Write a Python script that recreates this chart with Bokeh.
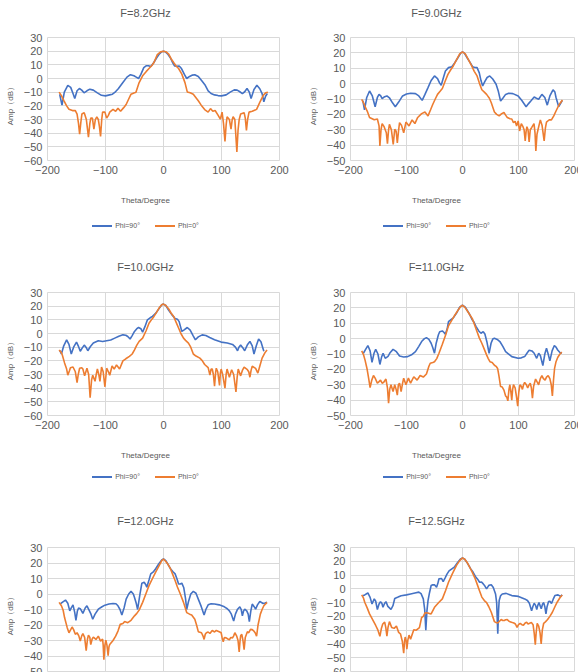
from bokeh.plotting import figure
from bokeh.models import Range1d, FixedTicker, Div
from bokeh.layouts import column, row
from bokeh.embed import file_html
from bokeh.resources import INLINE

GRAY = "#595959"
GRID = "#d9d9d9"
BLUE = "#4472C4"
ORANGE = "#ED7D31"

titles = ["F=8.2GHz", "F=9.0GHz", "F=10.0GHz", "F=11.0GHz", "F=12.0GHz", "F=12.5GHz"]
y_mins = [-60, -50, -60, -50, -50, -60]
x_ticks = [-200, -100, 0, 100, 200]
legend_labels = ["Phi=90°", "Phi=0°"]
x_title = "Theta/Degree"
y_title = "Amp（dB）"

# (theta [deg], amplitude [dB])
phi90_82 = [(-179,-11.5),(-175,-19.5),(-171,-10),(-165,-5),(-160,-6.5),(-156,-11),(-153,-14.6),(-149,-9),(-145,-7.3),(-141,-8.5),(-137,-10.5),(-132,-9),(-127,-7.8),(-121,-8.5),(-114,-10.5),(-107,-12.3),(-100,-12.7),(-93,-12),(-88,-11.5),(-84,-10.2),(-78,-7.5),(-70,-2.9),(-63,1),(-57,2.8),(-51,2),(-47,1),(-43,0),(-39,3),(-34,8),(-30,9.3),(-26,9.3),(-22,8.7),(-17,11.5),(-12,15),(-7,18),(-3,19.6),(0,20),(3,19.6),(7,18),(12,15),(16,11.5),(19,9.2),(23,9),(27,9.2),(31,7.3),(36,3),(40,0),(45,1.5),(50,2.5),(54,2.7),(60,1.5),(66,-1.7),(72,-5),(77,-9),(82,-11),(88,-12),(94,-12.5),(100,-12.7),(108,-12),(115,-10),(122,-8.3),(127,-8.5),(131,-9.5),(136,-11),(140,-9.7),(144,-7.3),(148,-10),(151,-14.6),(156,-8),(161,-5),(166,-7.5),(170,-11),(173,-17),(176,-13),(179,-11)]
phi0_82 = [(-180,-10),(-176,-12.5),(-172,-16),(-167,-20),(-163,-22.5),(-157,-23.5),(-152,-23.5),(-149,-26),(-146.5,-33),(-144.6,-40.7),(-142.5,-32),(-140.7,-26),(-136.7,-25),(-133,-30),(-129.4,-43),(-127,-33),(-125.4,-29),(-122.6,-29),(-120,-37),(-117.5,-30),(-115,-28),(-112.4,-30),(-110.5,-35),(-108.5,-42.4),(-106.5,-30),(-105,-24.6),(-101,-24.6),(-98,-29),(-95,-27),(-92.7,-24.6),(-87,-22.6),(-82.5,-24),(-78.5,-21.7),(-74,-24),(-69,-21.5),(-64.4,-19),(-60,-15),(-56,-11.5),(-50,-10.5),(-47.5,-10),(-42,-3),(-36,2),(-30,5),(-25,7.3),(-20,9.5),(-16.4,11.7),(-10.7,17.5),(-5,19.5),(0,20),(4,19.6),(9,17.8),(13,14.5),(17.5,11.7),(22,9),(26,7.3),(31.6,3.2),(37,-3),(41,-9.8),(46,-10.5),(51.4,-11.5),(55,-13.5),(60,-16.3),(65,-19.5),(71,-22.7),(77,-24.6),(81,-22),(85,-24),(89,-23.4),(94,-26.8),(98,-29.8),(101,-24.6),(103.5,-33),(106,-46),(108,-34),(109.6,-28),(113.6,-30),(116.4,-37),(118.5,-30),(120,-28),(123,-30),(126.5,-53.7),(128.5,-38),(130.5,-30),(133,-26),(139,-25),(141,-29),(143,-38),(145,-30),(147.5,-24.6),(153,-24),(160.5,-22.6),(166,-17.5),(171.8,-12.5),(176,-10.5),(180,-10)]

phi90_90 = [(-178,-11),(-175,-17),(-171,-9),(-166,-4.8),(-161,-8),(-156,-15),(-152,-9),(-149,-7),(-146,-8),(-143.5,-9.8),(-139,-8.5),(-135,-8),(-130,-9.5),(-125,-12.5),(-120,-15),(-114,-12),(-107,-8),(-100,-6.8),(-92.7,-6.3),(-84,-6.5),(-78,-8),(-72,-10.9),(-67,-7),(-61.6,-2.6),(-56,2),(-50,5),(-44.6,3.3),(-41,0.5),(-38,-1.1),(-34,4),(-30.5,8.2),(-25,10.4),(-19,11),(-14,13.5),(-8,17),(-3,20),(0,20.6),(3,20),(8,17),(14,13.5),(18,11),(22,10.5),(26,10.4),(30,7),(33,2),(36,-1.5),(40,1.5),(44,4),(48.6,5),(54,3),(60,-0.4),(64,-5),(68,-11.3),(72,-9.5),(77,-7),(82.5,-6.3),(90,-6.5),(99.4,-8),(106,-11),(113.6,-15),(118,-13),(122,-11.3),(128,-8.7),(132,-9.5),(136,-10.2),(141.8,-7),(147,-9),(151.4,-14),(156,-8),(161.6,-4),(165,-5.5),(167,-9),(171.8,-15),(175,-13),(178,-11)]
phi0_90 = [(-180,-10.2),(-176,-13),(-174.6,-14.5),(-170,-18),(-166,-22),(-157.6,-23.5),(-152,-23),(-149,-27.5),(-147.5,-40.5),(-145.5,-30),(-143.5,-26),(-140,-28),(-136,-32),(-134,-39),(-132,-30),(-130.5,-26.5),(-127,-30),(-123.7,-39.5),(-121,-29.7),(-118.5,-31),(-116.4,-38.5),(-114,-30),(-112.4,-25.4),(-109,-27),(-105,-32),(-101,-25),(-95.5,-27.5),(-90,-23.6),(-85,-26),(-80,-22),(-73,-19.5),(-67,-18.4),(-61.6,-21),(-57,-17),(-53,-13.4),(-48,-9.5),(-44.6,-7),(-40,-5),(-36,-3.2),(-31,1.5),(-26,6),(-21,9),(-16.4,11.5),(-10,16),(-5,19.3),(0,20.6),(5,19.3),(10,16),(16.4,11.5),(21,8),(26,5),(30,0.5),(34.5,-4),(39,-5.5),(43,-7),(48,-9.5),(51.4,-12.4),(57,-18.4),(61,-20),(65.5,-21),(70,-19.5),(74,-18.8),(77,-20.5),(80,-22),(85,-22.8),(88,-23),(91,-25.4),(94,-24.5),(96.6,-27.5),(99.4,-24.3),(102,-30.8),(105,-26),(108,-28),(110,-30),(112,-37.3),(113.6,-31),(115,-28),(117,-30),(119,-38),(121,-30),(123.7,-28.5),(127.7,-26),(129.5,-32),(131,-43.8),(133,-33),(135,-29.7),(139,-23.6),(142,-27),(145.8,-37.3),(148,-29),(150,-25),(155,-23.5),(158.8,-23.6),(163,-21),(167,-17.8),(173,-13.4),(178.5,-10.6)]

phi90_100 = [(-178.5,-12.5),(-176,-15),(-172,-9),(-167,-4.6),(-163,-8),(-159,-15),(-155,-10),(-150,-6.3),(-147,-9),(-143.5,-13),(-140,-10.5),(-136.7,-8.5),(-133,-10.5),(-130.5,-12.6),(-126,-9.5),(-121,-7),(-112.4,-5.3),(-105,-5.8),(-98,-5.3),(-91,-4.8),(-84,-3.4),(-77,-2),(-70,-1),(-65,-1.3),(-61.6,-2.2),(-57.6,-4),(-54,-1.5),(-50,1.5),(-46,3.5),(-43,4.4),(-39,3.5),(-36,1),(-32,5),(-27.7,10),(-23,11.5),(-19,12.5),(-14,14.5),(-8,18),(-3,21),(0,21.5),(4,20.5),(9,17),(14,14),(20,11),(24,10.5),(27,8.7),(31.6,1.5),(35,2.5),(41,4.4),(46,2.5),(51,-1.5),(55,-4.6),(60,-2.5),(66.7,-1),(73,-1.5),(79.7,-2.9),(88,-4.5),(99.4,-6.3),(110,-7),(119,-8),(124,-10),(127.7,-12.6),(130,-10),(133,-8.5),(136,-10),(140,-12.6),(145,-8),(149,-5.8),(153,-9),(156,-15),(160,-9),(164,-4),(168,-6),(173,-13)]
phi0_100 = [(-180,-12),(-176,-14),(-174.6,-15.5),(-170.6,-21.5),(-167,-26),(-165,-30.5),(-162,-27),(-160.5,-25),(-156,-24.5),(-152,-28),(-149,-36),(-147,-30),(-144.6,-25.4),(-141,-25),(-139,-26),(-136,-31),(-132,-25.4),(-129,-30),(-126.5,-47),(-124,-34),(-122,-30.5),(-118,-35),(-116,-30),(-114,-26),(-111.5,-30),(-109.6,-35),(-106.8,-24.6),(-104,-28),(-101,-39),(-98,-25.4),(-95,-28),(-92.7,-30.5),(-88.7,-23.8),(-85,-26),(-81,-23),(-75.7,-26),(-70,-20),(-65,-18.5),(-58.8,-16.7),(-54,-15),(-50,-12),(-46,-8.5),(-42,-5.8),(-36,-3.4),(-30,2),(-25,7.5),(-20,10.5),(-16.4,12.5),(-12,15.5),(-8,18.4),(-3,21),(0,21.5),(4,20.5),(9,18),(13,15),(17.5,12.5),(22,8),(26,4),(30,0),(34.5,-3.4),(38,-5),(43,-7),(47,-10),(51.4,-15),(56,-16.5),(62.7,-18),(67,-20),(71,-22.7),(77,-25),(80,-30.5),(82,-26),(84,-26),(86,-30),(88,-38.5),(90,-28),(91,-25.4),(93.5,-28),(96.6,-38),(98,-29),(99.4,-26),(102,-30),(106,-40),(108,-30),(109.6,-26),(113.6,-32),(117.5,-26.5),(121,-30),(124.9,-42.8),(127,-32),(128.8,-26),(133,-31),(136,-27),(139,-24.6),(144.6,-26.5),(147,-28),(149,-32),(151,-27),(153,-24),(158.8,-25.5),(162.7,-29),(166,-24),(170,-18),(175,-14),(178.5,-12)]

phi90_110 = [(-177,-9.5),(-173,-7),(-169,-4.5),(-165,-8),(-161.6,-15.4),(-158,-9.5),(-155,-7),(-151,-10),(-147.5,-16.8),(-144.5,-12),(-141.8,-9.5),(-138,-12.8),(-133,-11.5),(-129,-9),(-124,-7),(-118,-8.5),(-112.4,-11.3),(-105,-12),(-98,-11.7),(-91,-10.5),(-84,-8.5),(-78,-5),(-73,-1.9),(-68,0),(-64.4,0.6),(-60,-0.5),(-56,-3),(-53,-6),(-50,-9.5),(-47,-3),(-43,2.5),(-40.7,4.5),(-36,5),(-33,4),(-30.5,2.8),(-27,7),(-25,11),(-20,12.5),(-16.4,13.5),(-10,17),(-5,20.5),(0,21.7),(5,20.5),(12,16.2),(17,12.5),(20,11),(24,8),(29,5),(33,3.5),(37,4.5),(40,3),(43.5,-2),(47.5,-9.5),(51,-3),(54,-0.3),(57,0.2),(62,-0.5),(66.7,-1.9),(72,-5),(77,-8.5),(88,-11.7),(99.4,-12.8),(105,-12.5),(111,-11.7),(116,-9),(119,-7.5),(124,-8),(128,-9.5),(132.5,-12.8),(136,-9.5),(139,-11),(143.5,-17.5),(147,-10),(150,-6.3),(153,-10),(156,-14.5),(160,-8),(164,-4.5),(167,-5.5),(170,-7.4),(174,-9),(177.4,-9.5)]
phi0_110 = [(-180,-8),(-177,-10.2),(-174,-14),(-170.6,-19.4),(-167.5,-26),(-165,-31.8),(-162,-27),(-159,-24),(-156,-25.7),(-152,-29),(-149,-28),(-146.4,-27),(-143.5,-29),(-140.7,-28.4),(-136.7,-26.3),(-134,-32),(-132,-42),(-130,-33),(-127.7,-30),(-124,-34.4),(-121,-30),(-118.5,-33),(-116.4,-36.8),(-114.5,-30),(-112.4,-29),(-109.6,-34.4),(-107,-29),(-105,-25.7),(-101,-30),(-96.6,-25.7),(-92.7,-29),(-87,-24.8),(-81,-27),(-75.7,-24),(-70,-25),(-64.4,-23),(-60,-18),(-57.6,-16),(-53,-15.5),(-50,-15),(-46,-13),(-42,-9.5),(-36,-3.7),(-30,2.5),(-25,8.4),(-19,12),(-13.5,15.4),(-7,19),(-3,21),(0,21.7),(4,20.5),(9,17.8),(13,15.5),(17.5,13),(21,9.5),(26,4.5),(30,0.5),(34.5,-3),(39,-7),(43,-10.6),(46,-13),(49,-15),(53,-15.5),(57,-17.3),(60,-18),(62.7,-19.4),(65,-24),(68,-31.2),(71,-31.5),(74,-33.5),(77,-37.3),(79,-38),(81,-40.5),(83,-33),(84.6,-30),(86.5,-35),(88,-40),(89.5,-33),(91,-30),(94,-32),(96.5,-38),(98.6,-43.9),(100.5,-35),(102.6,-30),(105,-31),(107,-33),(109,-30),(111,-28.5),(114,-30),(116.4,-32),(119,-30),(121,-29),(123,-32),(124.9,-38.8),(127,-31),(130.5,-26.3),(133,-28),(136,-30),(139,-26),(141.8,-24),(144.5,-26),(147.5,-27),(150,-25),(153,-24),(156,-26),(158.5,-30),(160.5,-37.3),(162.5,-27),(164.4,-19.4),(167,-15),(170,-12.3),(174,-10),(177.4,-8.8)]

phi90_120 = [(-178.5,-6.5),(-174.6,-5.4),(-169,-3.9),(-165,-6),(-161.6,-10.9),(-159,-9),(-156,-7),(-153,-12),(-151,-17),(-148.5,-11),(-146.4,-9.1),(-143.5,-9.5),(-141,-11),(-139,-12.6),(-135,-9),(-132,-7.6),(-127.7,-10.9),(-125,-13),(-122,-16.3),(-118,-13),(-112.4,-9.8),(-106,-8.2),(-101,-7.2),(-94,-6.5),(-87,-6.1),(-82,-6.3),(-78.5,-7.6),(-75,-10),(-71.8,-13.5),(-68,-9),(-64.4,-3.3),(-60,0),(-56,1.7),(-52,0),(-50,-2.2),(-47,-6),(-44.6,-10),(-41,-1),(-37.3,7),(-33.3,7.6),(-30.5,6),(-28.8,4.3),(-25,9),(-22,13),(-17,14.5),(-13.5,16.3),(-8,19.5),(-3,22),(0,22.6),(4,21.5),(8,19),(12,16.3),(16,14.5),(20,13),(23,10),(26,6.5),(29,6.5),(31.6,7),(35,4),(38,-3),(40,-10),(43,-5),(47,0),(51.4,1.7),(56,0.5),(60,-3.3),(65,-8),(70,-13.5),(73,-10),(77,-7),(82,-6.3),(88,-6.5),(96,-7),(105,-8.3),(110,-9.5),(113.6,-10.9),(117,-13),(121,-17.4),(124,-13),(127.7,-9.8),(131.6,-8.3),(134,-10),(136,-14.1),(138,-11),(140,-9.8),(143.5,-10.9),(146,-13),(148,-17.8),(150.5,-11),(153,-6.5),(156,-8),(158.8,-9.8),(162,-7),(166,-4.8),(169,-5.5),(171.8,-6.1),(175,-5.8),(178.5,-5.4)]
phi0_120 = [(-180,-5.4),(-176,-7.6),(-173,-10.5),(-170.6,-15.2),(-166,-21.7),(-163,-25),(-160,-23),(-157.6,-21.3),(-155,-23),(-152,-26),(-149,-25),(-146,-27),(-143.5,-30.4),(-141,-27),(-139,-25.6),(-136,-28),(-133.3,-36.5),(-131,-29),(-129.4,-26.5),(-127,-28),(-125.4,-32.6),(-123,-29),(-121,-27.8),(-116.4,-29.3),(-112.4,-27.2),(-108.5,-30.4),(-105,-29),(-104,-33),(-102.8,-42.4),(-101,-33),(-99.4,-29.8),(-97.5,-33),(-95.5,-39.8),(-94,-34),(-92.7,-32.6),(-87,-30),(-82.5,-27.2),(-78.5,-23.9),(-74.6,-19.6),(-70,-19),(-67,-17.8),(-61.6,-18.5),(-56,-17),(-50,-14.1),(-46,-12.5),(-42,-10.4),(-36,-5.4),(-30,0.5),(-25,5.4),(-19,10),(-13.5,14.1),(-8,18),(-3,21.5),(0,22.6),(4,21),(8,19),(12,16.3),(16,12.5),(20,8.7),(24,4.5),(29,0),(34.5,-5.4),(40,-12),(45,-13),(48.6,-13.5),(54,-16.3),(57,-20),(60,-24.3),(65.5,-25),(68,-27),(70,-29.3),(72,-26),(74,-25),(77,-24.5),(80,-25.5),(84,-23.5),(88,-24.5),(91,-23.5),(94,-24),(97,-24.5),(99.4,-25),(101,-28),(103,-30.9),(105,-28),(108,-28.3),(111,-29),(113.6,-29.5),(116,-28),(119,-28.3),(121,-27),(123,-25),(126,-27),(128.5,-30),(130.5,-37.4),(132,-30),(133,-27),(135,-26),(137,-30),(139,-35.9),(141,-28),(144.6,-24.3),(147,-25),(150,-22.8),(153,-23),(156,-24),(158,-25),(160.5,-27.2),(163,-20),(167,-13),(170,-10),(173,-7.6),(178.5,-5.4)]

phi90_125 = [(-178,-5),(-174.6,-4.4),(-169,-3),(-165,-6.2),(-161.6,-11),(-157.6,-7.3),(-155,-9),(-152,-15),(-149,-11),(-146.4,-9.3),(-144,-10.5),(-142,-13.4),(-139,-10.5),(-136.7,-9.3),(-133.3,-12.7),(-130,-14),(-127.7,-15),(-124,-12),(-121,-7),(-115,-6),(-109.6,-5),(-100,-4.4),(-92.7,-3.7),(-85,-3),(-78,-2.4),(-74,-3.5),(-70,-7.3),(-67.5,-15),(-65.5,-30),(-63.5,-16),(-61.6,-8.5),(-59,-3),(-56,2.4),(-53,3),(-50,2.9),(-46.3,1.2),(-44,4),(-42,7.3),(-37.3,7.5),(-34.5,5.3),(-31,8),(-27.7,10.7),(-24,13),(-19,14.5),(-14,16),(-9,19),(-4,21.5),(0,22.5),(4,21.5),(9,18.5),(14.7,14.5),(19,12),(23,9),(27,7),(30.5,4.8),(34,5),(37,3.6),(40,2),(43,0),(47,2.5),(51.4,3),(55,1),(59,-3.7),(61,-10),(63,-32.5),(64.5,-15),(65.5,-8.5),(68,-5),(71,-3.7),(78,-3.3),(88,-4.9),(100,-5.5),(111,-7.3),(116,-8.5),(119.4,-10.5),(123.4,-16),(125.5,-13),(128,-10.5),(130.5,-12),(132.6,-15),(134.5,-12),(136.6,-10),(140.6,-14.5),(143,-11),(145,-10),(147,-13),(149,-18.2),(151,-13),(153.7,-9.2),(156,-9),(159,-10.7),(162,-7.5),(165,-4.9),(170.6,-4.4),(175,-5.5),(178,-4.4)]
phi0_125 = [(-180,-4.4),(-177,-6.5),(-174.6,-9.7),(-170,-14),(-166,-18.2),(-160.5,-22.3),(-155,-26.6),(-151,-30),(-147.5,-34.4),(-145,-29),(-142.4,-25.5),(-139,-24.2),(-137,-28),(-135,-34.4),(-133,-28),(-130.5,-23.8),(-126.5,-28),(-122,-28.7),(-118,-27),(-114,-31.6),(-110.7,-32.8),(-107.5,-38),(-105,-46.7),(-103.5,-38),(-102.3,-35),(-100.5,-38),(-99.4,-43.8),(-97.5,-37),(-95.5,-33.6),(-92.7,-36.5),(-87,-29.7),(-82.5,-30),(-78,-28.5),(-76.8,-28),(-73,-20.8),(-70,-20),(-67,-17.4),(-61.6,-17.5),(-58,-18),(-56,-18.2),(-50,-13.4),(-42,-9.7),(-36,-7.3),(-30,-1),(-25,4.8),(-18,11),(-10.7,17),(-5,20.5),(0,22.5),(4,21.5),(9,18.7),(13,15.5),(17.5,12),(22,8),(26,3.6),(30,-1),(34.5,-6),(39,-8.5),(43,-10),(47,-13),(51.4,-17),(57,-23.8),(60,-24.5),(63,-24.8),(66,-23.5),(69,-22.3),(72,-23),(74.6,-23),(77,-22.5),(80,-22.3),(83,-23.5),(86,-24),(89,-24.5),(91.7,-24.8),(94.5,-25.5),(97.4,-28),(100,-26),(103,-25),(106,-26),(108.8,-26.5),(111.5,-25),(114.5,-24.2),(117,-25.5),(120,-25),(123,-24.5),(126,-26),(128,-32),(130,-40.5),(131.5,-32),(133.4,-25),(136,-27),(138.5,-32),(140.5,-40),(142.5,-30),(145,-25),(148,-24),(152,-22.3),(156,-20),(160.5,-17),(165,-13),(169,-9.7),(174,-6.5),(178,-4.4)]

series_90 = [phi90_82, phi90_90, phi90_100, phi90_110, phi90_120, phi90_125]
series_0 = [phi0_82, phi0_90, phi0_100, phi0_110, phi0_120, phi0_125]

# layout sizes (px)
panel_w = 281
ylab_w = [10, 22]
border_left = [24, 23]
border_right = [12, 8]
title_h = [22, 31, 32]
title_pad = [0, 9, 9]
fig_h = [148, 148, 149]
bottom_h = [46, 45, 35]
xlab_pad = [1, 1, 0]
legend_gap = [15, 11, 12]
center_shift = [11, 19]

FONT_CSS = "font-family: 'Liberation Sans', Arial, helvetica, sans-serif; color: #595959;"


def make_panel(k):
    r, c = divmod(k, 2)
    fw = panel_w - ylab_w[c]
    p = figure(width=fw, height=fig_h[r],
               x_range=Range1d(-200, 200), y_range=Range1d(y_mins[k], 30),
               output_backend="svg", toolbar_location=None,
               min_border_left=border_left[c], min_border_right=border_right[c],
               min_border_top=5, min_border_bottom=20,
               background_fill_color="white", border_fill_color="white",
               outline_line_color=GRID)
    x90 = [t for t, a in series_90[k]]
    y90 = [a for t, a in series_90[k]]
    x0 = [t for t, a in series_0[k]]
    y0 = [a for t, a in series_0[k]]
    p.line(x90, y90, line_color=BLUE, line_width=1.6)
    p.line(x0, y0, line_color=ORANGE, line_width=1.6)
    p.xaxis.ticker = FixedTicker(ticks=x_ticks)
    p.yaxis.ticker = FixedTicker(ticks=list(range(y_mins[k], 31, 10)))
    for ax in (p.xaxis, p.yaxis):
        ax.axis_line_color = None
        ax.major_tick_line_color = None
        ax.minor_tick_line_color = None
        ax.major_tick_out = 0
        ax.major_tick_in = 0
        ax.major_label_text_color = GRAY
    p.xgrid.grid_line_color = GRID
    p.ygrid.grid_line_color = GRID

    pad = center_shift[c]
    title = Div(text=(f'<div style="{FONT_CSS} font-size: 11px; line-height: 14px; '
                      f'text-align: center; width: {panel_w - 2 * pad}px; '
                      f'margin-top: {title_pad[r]}px; padding-left: {2 * pad}px;">{titles[k]}</div>'),
                width=panel_w, height=title_h[r])

    ylab = Div(text=(f'<div style="{FONT_CSS} font-size: 8px; line-height: 9px; white-space: nowrap; '
                     'writing-mode: vertical-rl; text-orientation: sideways; transform: rotate(180deg); '
                     f'margin-top: 46px; margin-left: {ylab_w[c] - 9}px;">{y_title}</div>'),
               width=ylab_w[c], height=fig_h[r])

    swatch = ('<span style="display: inline-block; width: 20px; height: 0; '
              'border-top: 2px solid {col}; vertical-align: middle; margin-right: 3px;"></span>')
    legend_html = (swatch.format(col=BLUE) + legend_labels[0]
                   + '<span style="display: inline-block; width: 15px;"></span>'
                   + swatch.format(col=ORANGE) + legend_labels[1])
    bottom = Div(text=(f'<div style="{FONT_CSS} text-align: center; width: {panel_w - 2 * pad}px; '
                       f'padding-left: {2 * pad}px;">'
                       f'<div style="font-size: 8px; line-height: 10px; margin-top: {xlab_pad[r]}px;">{x_title}</div>'
                       f'<div style="font-size: 7px; line-height: 10px; margin-top: {legend_gap[r]}px;">{legend_html}</div>'
                       '</div>'),
                 width=panel_w, height=bottom_h[r])
    return column(title, row(ylab, p), bottom)


panels = [make_panel(k) for k in range(6)]
layout = column(row(panels[0], panels[1]), row(panels[2], panels[3]), row(panels[4], panels[5]))
open("out.html", "w").write(file_html(layout, INLINE))
